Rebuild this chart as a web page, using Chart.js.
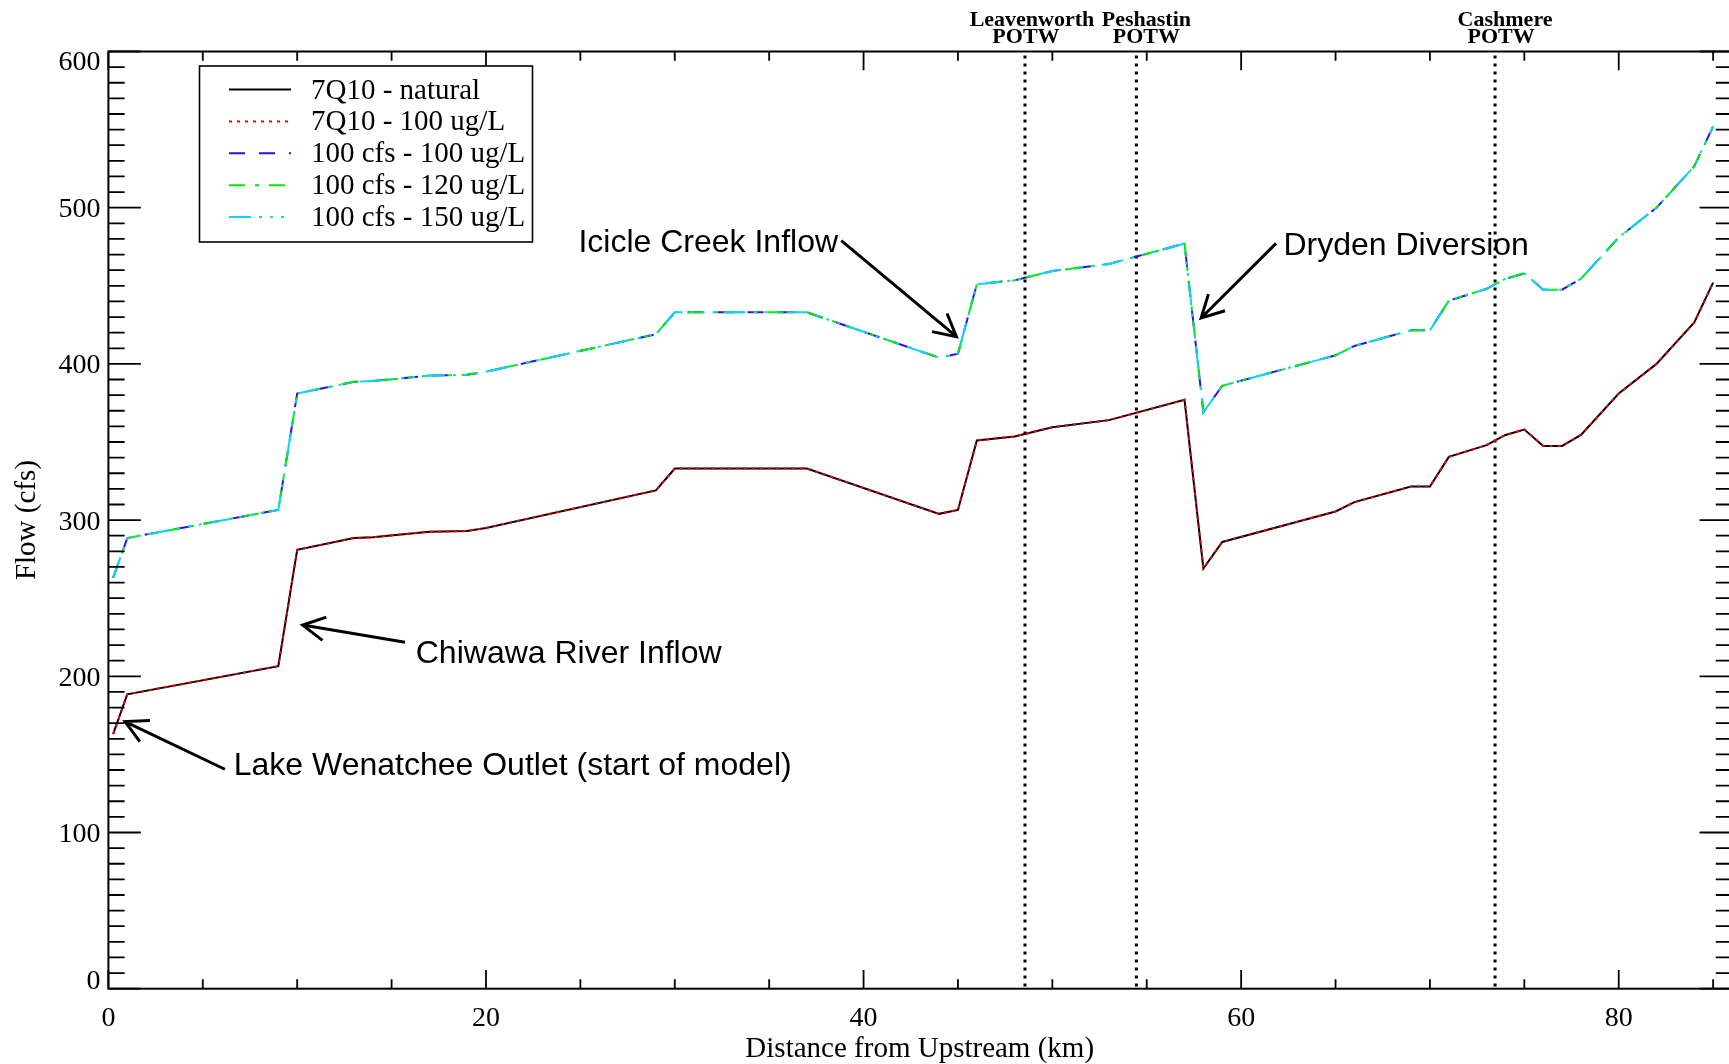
<!DOCTYPE html>
<html>
<head>
<meta charset="utf-8">
<script src="https://cdn.jsdelivr.net/npm/chart.js@4.4.1/dist/chart.umd.min.js"></script>
<style>
  html, body { margin: 0; padding: 0; background: #fff; overflow: hidden; }
  #wrap { position: relative; width: 1740px; height: 1064px; }
</style>
</head>
<body>
<div id="wrap"><canvas id="flowChart" width="1740" height="1064"></canvas></div>
<script>
// River distance of each model node (km from upstream end)
const distanceKm = [0.25, 1, 9, 10, 13, 14, 17, 19, 20, 29, 30, 37, 44, 45, 46, 48, 50, 53, 57, 58,
                    59, 65, 66, 69, 70, 71, 73, 74, 75, 76, 77, 78, 80, 82, 84, 85];

// Flow under 7Q10 low-flow conditions (cfs)
const flow7Q10 = [163, 188.5, 206.5, 281, 288.5, 289, 292.5, 293, 295, 319, 333, 333, 304, 306.5, 351, 353.5, 359.5, 364, 377, 269,
                  286, 305.5, 311.5, 321.5, 321.5, 340.5, 348, 354.5, 358, 347.5, 347.5, 354.5, 381, 400, 426.5, 452];

// Flow under the 100 cfs scenarios (cfs)
const flow100cfs = [263, 288.5, 306.5, 381, 388.5, 389, 392.5, 393, 395, 419, 433, 433, 404, 406.5, 451, 453.5, 459.5, 464, 477, 369,
                    386, 405.5, 411.5, 421.5, 421.5, 440.5, 448, 454.5, 458, 447.5, 447.5, 454.5, 481, 500, 526.5, 552];

const seriesLabels = ['7Q10 - natural', '7Q10 - 100 ug/L', '100 cfs - 100 ug/L', '100 cfs - 120 ug/L', '100 cfs - 150 ug/L'];

// Treatment plant outfalls
const potwNames = [['Leavenworth', 'POTW'], ['Peshastin', 'POTW'], ['Cashmere', 'POTW']];
const potwKm = [48.55, 54.45, 73.45];

const xTickLabels = [0, 20, 40, 60, 80];
const yTickLabels = [0, 100, 200, 300, 400, 500, 600];

const SERIF = '"Liberation Serif", "Times New Roman", serif';
const SANS = '"Liberation Sans", Arial, sans-serif';

function toPoints(values) {
  return distanceKm.map((km, i) => ({ x: km, y: values[i] }));
}

const lineStyles = [
  { color: '#000000', dash: [], order: 5 },
  { color: '#ff0000', dash: [3, 5], order: 4 },
  { color: '#3c0adc', dash: [16, 14], order: 3 },
  { color: '#00ee00', dash: [16, 10, 4, 10], order: 2 },
  { color: '#10d2ff', dash: [22, 8, 3, 8, 3, 8, 3, 8], order: 1 }
];
const seriesValues = [flow7Q10, flow7Q10, flow100cfs, flow100cfs, flow100cfs];

const datasets = seriesLabels.map((label, i) => ({
  label: label,
  data: toPoints(seriesValues[i]),
  borderColor: lineStyles[i].color,
  backgroundColor: lineStyles[i].color,
  borderDash: lineStyles[i].dash,
  borderWidth: 2,
  borderCapStyle: 'butt',
  pointRadius: 0,
  tension: 0,
  fill: false,
  order: lineStyles[i].order
}));

// Callouts: arrow tip/tail and text anchor in data units (km, cfs)
const callouts = [
  { text: 'Lake Wenatchee Outlet (start of model)', tip: [0.88, 171], tail: [6.17, 140.5], at: [6.64, 143.9], align: 'left' },
  { text: 'Chiwawa River Inflow', tip: [10.29, 232.8], tail: [15.71, 221.8], at: [16.28, 215.7], align: 'left' },
  { text: 'Icicle Creek Inflow', tip: [44.92, 417.4], tail: [38.82, 478.9], at: [38.65, 479.1], align: 'right' },
  { text: 'Dryden Diversion', tip: [57.88, 429.4], tail: [61.85, 477.2], at: [62.24, 477], align: 'left' }
];

function drawArrow(ctx, x1, y1, x2, y2) {
  ctx.beginPath();
  ctx.moveTo(x1, y1);
  ctx.lineTo(x2, y2);
  const ang = Math.atan2(y1 - y2, x1 - x2);
  const len = 25, spread = 0.49;
  ctx.moveTo(x2 + len * Math.cos(ang - spread), y2 + len * Math.sin(ang - spread));
  ctx.lineTo(x2, y2);
  ctx.lineTo(x2 + len * Math.cos(ang + spread), y2 + len * Math.sin(ang + spread));
  ctx.stroke();
}

const framePlugin = {
  id: 'idlFrame',
  beforeDatasetsDraw(chart) {
    const ctx = chart.ctx, xs = chart.scales.x, a = chart.chartArea;
    ctx.save();
    ctx.strokeStyle = '#000';
    ctx.lineWidth = 3;
    ctx.setLineDash([3, 5]);
    potwKm.forEach(km => {
      const px = xs.getPixelForValue(km);
      ctx.beginPath();
      ctx.moveTo(px, a.top + 4);
      ctx.lineTo(px, a.bottom);
      ctx.stroke();
    });
    ctx.restore();
  },
  afterDraw(chart) {
    const ctx = chart.ctx, xs = chart.scales.x, ys = chart.scales.y, a = chart.chartArea;
    ctx.save();
    ctx.strokeStyle = '#000';
    ctx.fillStyle = '#000';

    // plot frame
    ctx.lineWidth = 2;
    ctx.strokeRect(a.left, a.top, a.right - a.left, a.bottom - a.top);

    // ticks pointing inward on all four sides
    const h = a.bottom - a.top, w = a.right - a.left;
    const xMaj = 0.02 * h, yMaj = 0.02 * w;
    ctx.lineWidth = 1.8;
    ctx.beginPath();
    for (let v = 0; v <= xs.max + 1e-6; v += 5) {
      const px = xs.getPixelForValue(v);
      const len = (v % 20 === 0) ? xMaj : xMaj / 2;
      ctx.moveTo(px, a.bottom); ctx.lineTo(px, a.bottom - len);
      ctx.moveTo(px, a.top); ctx.lineTo(px, a.top + len);
    }
    for (let v = 0; v <= ys.max + 1e-6; v += 10) {
      const py = ys.getPixelForValue(v);
      const len = (v % 100 === 0) ? yMaj : yMaj / 2;
      ctx.moveTo(a.left, py); ctx.lineTo(a.left + len, py);
      ctx.moveTo(a.right, py); ctx.lineTo(a.right - len, py);
    }
    ctx.stroke();

    // tick labels
    ctx.font = '28px ' + SERIF;
    ctx.textBaseline = 'alphabetic';
    ctx.textAlign = 'right';
    yTickLabels.forEach(v => {
      let cy = ys.getPixelForValue(v);
      cy = Math.min(Math.max(cy, a.top + 9), a.bottom - 9);
      ctx.fillText(String(v), a.left - 8, cy + 9.5);
    });
    ctx.textAlign = 'center';
    xTickLabels.forEach(v => {
      ctx.fillText(String(v), xs.getPixelForValue(v), a.bottom + 37);
    });

    // axis titles
    ctx.font = '29px ' + SERIF;
    ctx.fillText('Distance from Upstream (km)', (a.left + 1731) / 2, a.bottom + 68);
    ctx.save();
    ctx.translate(24.5, (a.top + a.bottom) / 2);
    ctx.rotate(-Math.PI / 2);
    ctx.fillText('Flow (cfs)', 0, 10);
    ctx.restore();

    // outfall names above the frame
    ctx.font = 'bold 22px ' + SERIF;
    const nameShift = [[7, 1], [10, 10], [10, 6]];
    potwKm.forEach((km, i) => {
      const px = xs.getPixelForValue(km);
      ctx.fillText(potwNames[i][0], px + nameShift[i][0], a.top - 26);
      ctx.fillText(potwNames[i][1], px + nameShift[i][1], a.top - 9);
    });

    // legend
    const lx = 199.5, ly = 66, lw = 333, lh = 176;
    ctx.fillStyle = '#fff';
    ctx.fillRect(lx, ly, lw, lh);
    ctx.lineWidth = 1.6;
    ctx.strokeStyle = '#000';
    ctx.strokeRect(lx, ly, lw, lh);
    ctx.font = '29px ' + SERIF;
    ctx.textAlign = 'left';
    chart.data.datasets.forEach((ds, i) => {
      const cy = 89.5 + i * 31.9;
      ctx.save();
      ctx.strokeStyle = ds.borderColor;
      ctx.lineWidth = 2;
      ctx.setLineDash(ds.borderDash);
      ctx.beginPath();
      ctx.moveTo(229, cy); ctx.lineTo(291, cy);
      ctx.stroke();
      ctx.restore();
      ctx.fillStyle = '#000';
      ctx.fillText(ds.label, 311, cy + 9);
    });

    // callouts
    ctx.font = '32px ' + SANS;
    ctx.lineWidth = 3;
    ctx.strokeStyle = '#000';
    ctx.fillStyle = '#000';
    ctx.lineCap = 'butt';
    ctx.lineJoin = 'miter';
    callouts.forEach(c => {
      const tx = xs.getPixelForValue(c.tail[0]), ty = ys.getPixelForValue(c.tail[1]);
      const hx = xs.getPixelForValue(c.tip[0]), hy = ys.getPixelForValue(c.tip[1]);
      drawArrow(ctx, tx, ty, hx, hy);
      ctx.textAlign = c.align;
      ctx.fillText(c.text, xs.getPixelForValue(c.at[0]), ys.getPixelForValue(c.at[1]) + 11.5);
    });
    ctx.restore();
  }
};

new Chart(document.getElementById('flowChart'), {
  type: 'line',
  data: { datasets: datasets },
  options: {
    responsive: false,
    animation: false,
    devicePixelRatio: 1,
    layout: { padding: { left: 108.4, right: 8, top: 51.5, bottom: 75.3 } },
    plugins: { legend: { display: false }, tooltip: { enabled: false } },
    scales: {
      x: { type: 'linear', min: 0, max: 86, display: false },
      y: { type: 'linear', min: 0, max: 600, display: false }
    }
  },
  plugins: [framePlugin]
});
</script>
</body>
</html>
